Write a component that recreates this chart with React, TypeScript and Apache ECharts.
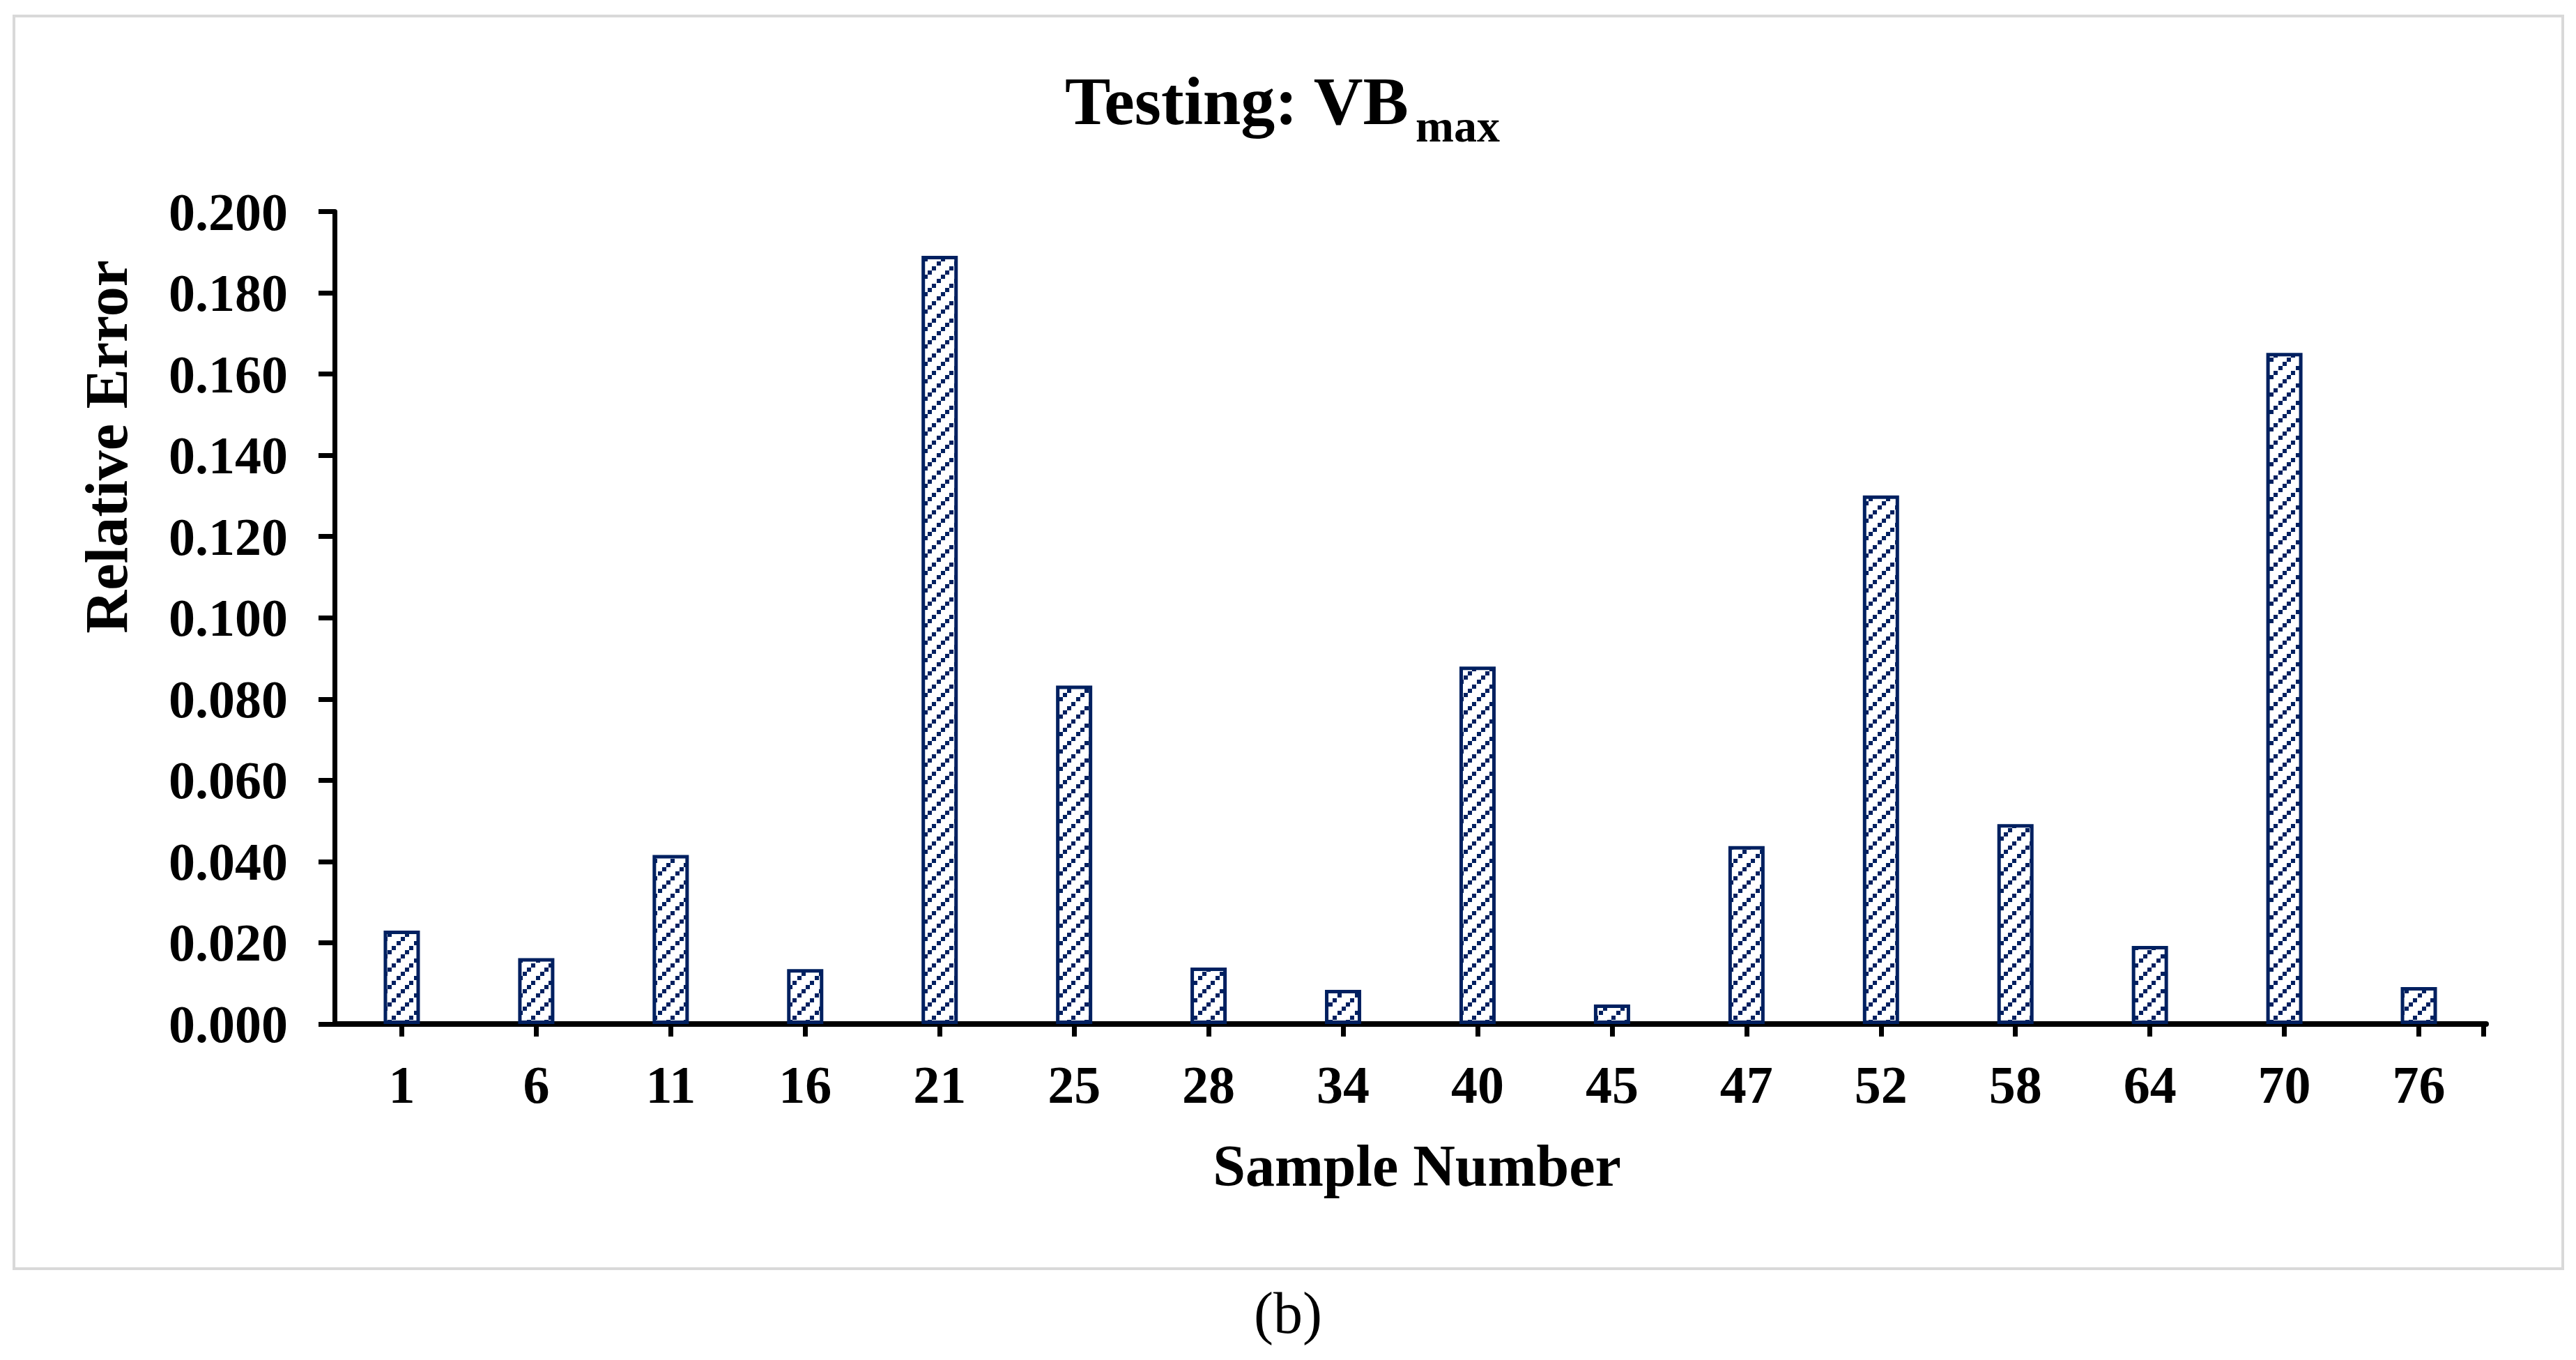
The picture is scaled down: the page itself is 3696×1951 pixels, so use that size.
import React, { useEffect, useRef } from "react";
import * as echarts from "echarts";

const categories = ["1", "6", "11", "16", "21", "25", "28", "34", "40", "45", "47", "52", "58", "64", "70", "76"];
const relativeError = [0.023, 0.0162, 0.0416, 0.0135, 0.1891, 0.0833, 0.0139, 0.0084, 0.088, 0.0048, 0.0438, 0.1301, 0.0492, 0.0192, 0.1652, 0.0091];
const yMin = 0;
const yMax = 0.2;
const yInterval = 0.02;
const titleMain = "Testing: VB";
const titleSub = "max";
const xName = "Sample Number";
const yName = "Relative Error";
const caption = "(b)";

const NAVY = "#002060";
const FONT = '"Times New Roman", "Liberation Serif", serif';

function makeHatch(): HTMLCanvasElement {
  const c = document.createElement("canvas");
  c.width = 25;
  c.height = 25;
  const ctx = c.getContext("2d") as CanvasRenderingContext2D;
  ctx.fillStyle = "#ffffff";
  ctx.fillRect(0, 0, 25, 25);
  ctx.fillStyle = NAVY;
  const xs = [0, 6, 12, 19];
  const ys = [19, 13, 7, 0];
  for (let i = 0; i < xs.length; i++) {
    ctx.fillRect(xs[i], ys[i], 6, 6);
  }
  return c;
}

export default function App() {
  const ref = useRef<HTMLDivElement>(null);
  useEffect(() => {
    if (!ref.current) return;
    const chart = echarts.init(ref.current, undefined, { renderer: "svg" });
    const hatch = makeHatch();
    const baseGraphics: any[] = [
      {
        type: "rect",
        shape: { x: 20, y: 23, width: 3657, height: 1797 },
        style: { fill: "none", stroke: "#d9d9d9", lineWidth: 4 },
        silent: true,
      },
      {
        type: "text",
        x: 1528,
        y: 145,
        style: {
          text: titleMain,
          fontFamily: FONT,
          fontWeight: "bold",
          fontSize: 98,
          fill: "#000",
          textAlign: "left",
          verticalAlign: "middle",
          textVerticalAlign: "middle",
        },
      },
      {
        type: "text",
        x: 2031,
        y: 180,
        style: {
          text: titleSub,
          fontFamily: FONT,
          fontWeight: "bold",
          fontSize: 66,
          fill: "#000",
          textAlign: "left",
          verticalAlign: "middle",
          textVerticalAlign: "middle",
        },
      },
      {
        type: "text",
        x: 153,
        y: 641,
        rotation: Math.PI / 2,
        style: {
          text: yName,
          fontFamily: FONT,
          fontWeight: "bold",
          fontSize: 86,
          fill: "#000",
          textAlign: "center",
          verticalAlign: "middle",
          textVerticalAlign: "middle",
        },
      },
      {
        type: "text",
        x: 2033,
        y: 1672,
        style: {
          text: xName,
          fontFamily: FONT,
          fontWeight: "bold",
          fontSize: 84,
          fill: "#000",
          textAlign: "center",
          verticalAlign: "middle",
          textVerticalAlign: "middle",
        },
      },
      {
        type: "text",
        x: 1848,
        y: 1883,
        style: {
          text: caption,
          fontFamily: FONT,
          fontWeight: "normal",
          fontSize: 84,
          fill: "#000",
          textAlign: "center",
          verticalAlign: "middle",
          textVerticalAlign: "middle",
        },
      },
    ];
    chart.setOption({
      animation: false,
      backgroundColor: "#ffffff",
      grid: { left: 480, right: 129, top: 303.5, bottom: 482, containLabel: false },
      xAxis: {
        type: "category",
        data: categories,
        boundaryGap: true,
        axisLine: { show: true, lineStyle: { color: "#000", width: 8 } },
        axisTick: { show: true, alignWithLabel: true, length: 18, lineStyle: { color: "#000", width: 7 } },
        axisLabel: {
          margin: 49,
          color: "#000",
          fontFamily: FONT,
          fontWeight: "bold",
          fontSize: 76,
          interval: 0,
        },
        splitLine: { show: false },
      },
      yAxis: {
        type: "value",
        min: yMin,
        max: yMax,
        interval: yInterval,
        axisLine: { show: true, lineStyle: { color: "#000", width: 7 } },
        axisTick: { show: true, length: 23, lineStyle: { color: "#000", width: 7 } },
        axisLabel: {
          margin: 67,
          color: "#000",
          fontFamily: FONT,
          fontWeight: "bold",
          fontSize: 76,
          formatter: (v: number) => v.toFixed(3),
        },
        splitLine: { show: false },
      },
      series: [
        {
          type: "bar",
          data: relativeError,
          barWidth: 52,
          itemStyle: {
            color: { image: hatch, repeat: "repeat" },
            borderColor: NAVY,
            borderWidth: 5,
          },
        },
      ],
      graphic: baseGraphics,
    });

    // closing tick at the right end of the category axis, derived from the axis scale
    const n = categories.length;
    const p0 = chart.convertToPixel({ xAxisIndex: 0 }, categories[0]) as number;
    const p1 = chart.convertToPixel({ xAxisIndex: 0 }, categories[1]) as number;
    const pLast = chart.convertToPixel({ xAxisIndex: 0 }, categories[n - 1]) as number;
    const y0 = chart.convertToPixel({ yAxisIndex: 0 }, yMin) as number;
    if (isFinite(p0) && isFinite(p1) && isFinite(pLast) && isFinite(y0)) {
      const endX = pLast + (p1 - p0) / 2;
      chart.setOption({
        graphic: [
          ...baseGraphics,
          {
            type: "line",
            shape: { x1: endX - 3.5, y1: y0, x2: endX - 3.5, y2: y0 + 18 },
            style: { stroke: "#000", lineWidth: 7 },
            silent: true,
          },
        ],
      });
    }
    return () => chart.dispose();
  }, []);
  return (
    <div
      ref={ref}
      style={{ position: "absolute", left: 0, top: 0, width: 3696, height: 1951, background: "#fff" }}
    />
  );
}
